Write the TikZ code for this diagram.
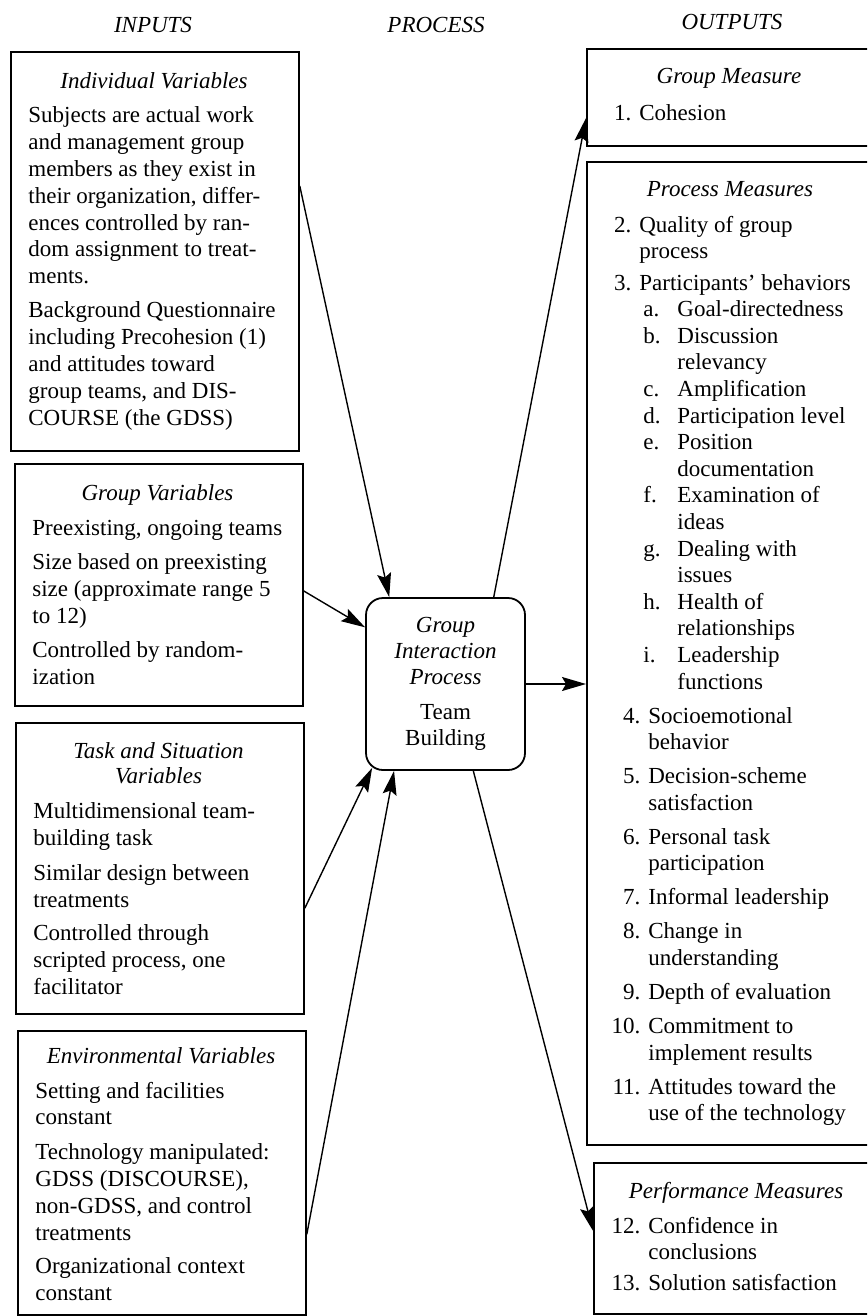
\documentclass[tikz,border=0pt]{standalone}
\usepackage{fontspec}
\setmainfont{Liberation Serif}
\usetikzlibrary{arrows.meta, calc}
% numbered entries of the output lists
\newcommand{\numNarrow}[2]{\makebox[15.5pt][r]{#1}\hspace{4pt}#2}
\newcommand{\numWide}[2]{\makebox[20pt][r]{#1}\hspace{4pt}#2}
\newcommand{\subLetter}[2]{\hspace*{21.5pt}\makebox[17pt][l]{#1}#2}

\begin{document}
\begin{tikzpicture}[x=0.5pt, y=-0.5pt,
    box/.style={draw, line width=0.9pt, anchor=north west, inner sep=0pt},
    flow/.style={-{Stealth[length=12pt, width=7pt, inset=2pt]}, line width=0.7pt},
    head/.style={font=\fontsize{11.5}{12.5}\selectfont\itshape, inner sep=0pt, align=center},
    lefttext/.style={font=\fontsize{11.5}{13.4}\selectfont, align=left, anchor=north west, inner sep=0pt},
    righttext/.style={font=\fontsize{11.5}{13.3}\selectfont, align=left, anchor=north west, inner sep=0pt}]
        \useasboundingbox (0,0) rectangle (867,1316);
        \clip (0,0) rectangle (867,1316);

        % Column headers
        \node[head] (hIn) at (153,25) {INPUTS};
        \node[head] (hProc) at (436,25) {PROCESS};
        \node[head] (hOut) at (732,22) {OUTPUTS};

        % Inputs: individual variables
        \node[box, minimum width=144pt, minimum height=199.5pt] (indiv) at (10,51) {};
        \node[head, anchor=north] (indivT) at (154,72.5) {Individual Variables};
        \node[lefttext] (indivB) at (28,106.5) {Subjects are actual work\\
          and management group\\
          members as they exist in\\
          their organization, differ-\\
          ences controlled by ran-\\
          dom assignment to treat-\\
          ments.\\[3.7pt]
          Background Questionnaire\\
          including Precohesion (1)\\
          and attitudes toward\\
          group teams, and DIS-\\
          COURSE (the GDSS)};

        % Inputs: group variables
        \node[box, minimum width=144pt, minimum height=121pt] (grpVar) at (14,463) {};
        \node[head, anchor=north] (grpVarT) at (157.5,484.5) {Group Variables};
        \node[lefttext] (grpVarB) at (32,519.5) {Preexisting, ongoing teams\\[4pt]
          Size based on preexisting\\
          size (approximate range 5\\
          to 12)\\[3.8pt]
          Controlled by random-\\
          ization};

        % Inputs: task and situation variables
        \node[box, minimum width=144pt, minimum height=145.5pt] (task) at (15,722) {};
        \node[head, anchor=north] (taskT) at (158.5,742.5) {Task and Situation\\ Variables};
        \node[lefttext] (taskB) at (33,802.5) {Multidimensional team-\\
          building task\\[4.2pt]
          Similar design between\\
          treatments\\[3.2pt]
          Controlled through\\
          scripted process, one\\
          facilitator};

        % Inputs: environmental variables
        \node[box, minimum width=144pt, minimum height=142pt] (env) at (17,1030) {};
        \node[head, anchor=north] (envT) at (161,1047.5) {Environmental Variables};
        \node[lefttext] (envB) at (35,1081.5) {Setting and facilities\\
          constant\\[4pt]
          Technology manipulated:\\
          GDSS (DISCOURSE),\\
          non-GDSS, and control\\
          treatments\\[3.2pt]
          Organizational context\\
          constant};

        % Process
        \node[draw, line width=0.9pt, rounded corners=8.5pt, minimum width=79.5pt,
          minimum height=86pt, align=center, inner sep=0pt,
          font=\fontsize{11.5}{13}\selectfont] (central) at (445.5,684)
          {\textit{Group}\\ \textit{Interaction}\\ \textit{Process}\\[4.5pt] Team\\ Building};

        % Outputs: group measure
        \node[box, minimum width=144pt, minimum height=48.5pt] (gMeas) at (586,48) {};
        \node[head, anchor=north] (gMeasT) at (729,67.5) {Group Measure};
        \node[righttext] (gMeasB) at (600,104.5) {\numNarrow{1.}{Cohesion}};

        % Outputs: process measures
        \node[box, minimum width=144pt, minimum height=491.5pt] (procM) at (586,161) {};
        \node[head, anchor=north] (procMT) at (730,181.5) {Process Measures};
        \node[righttext] (procMB) at (600,215.5) {\numNarrow{2.}{Quality of group}\\
          \hspace*{19.5pt}process\\[2.4pt]
          \numNarrow{3.}{Participants' behaviors}\\
          \subLetter{a.}{Goal-directedness}\\
          \subLetter{b.}{Discussion}\\
          \hspace*{38.5pt}relevancy\\
          \subLetter{c.}{Amplification}\\
          \subLetter{d.}{Participation level}\\
          \subLetter{e.}{Position}\\
          \hspace*{38.5pt}documentation\\
          \subLetter{f.}{Examination of}\\
          \hspace*{38.5pt}ideas\\
          \subLetter{g.}{Dealing with}\\
          \hspace*{38.5pt}issues\\
          \subLetter{h.}{Health of}\\
          \hspace*{38.5pt}relationships\\
          \subLetter{i.}{Leadership}\\
          \hspace*{38.5pt}functions\\[3.7pt]
          \numWide{4.}{Socioemotional}\\
          \hspace*{24pt}behavior\\[3.7pt]
          \numWide{5.}{Decision-scheme}\\
          \hspace*{24pt}satisfaction\\[3.7pt]
          \numWide{6.}{Personal task}\\
          \hspace*{24pt}participation\\[3.7pt]
          \numWide{7.}{Informal leadership}\\[3.7pt]
          \numWide{8.}{Change in}\\
          \hspace*{24pt}understanding\\[3.7pt]
          \numWide{9.}{Depth of evaluation}\\[3.7pt]
          \numWide{10.}{Commitment to}\\
          \hspace*{24pt}implement results\\[3.7pt]
          \numWide{11.}{Attitudes toward the}\\
          \hspace*{24pt}use of the technology};

        % Outputs: performance measures
        \node[box, minimum width=140.5pt, minimum height=75.5pt] (perf) at (593,1162) {};
        \node[head, anchor=north] (perfT) at (736,1181.5) {Performance Measures};
        \node[righttext] (perfB) at (600,1216.5) {\numWide{12.}{Confidence in}\\
          \hspace*{24pt}conclusions\\[1.9pt]
          \numWide{13.}{Solution satisfaction}};

        % Arrows into the process
        \draw[flow] ($(indiv.north east)!0.337!(indiv.south east)$)
          -- ($(central.north west)!0.15!(central.north east)$);
        \draw[flow] ($(grpVar.north east)!0.525!(grpVar.south east)$)
          -- ($(central.north west)!0.174!(central.south west)$);
        \draw[flow] ($(task.north east)!0.636!(task.south east)$)
          -- ($(central.south west)+(7,-3)$);
        \draw[flow] ($(env.north east)!0.715!(env.south east)$)
          -- ($(central.south west)!0.18!(central.south east)$);

        % Arrows out of the process
        \draw[flow] ($(central.north west)!0.8!(central.north east)$)
          -- ($(gMeas.north west)!0.71!(gMeas.south west)$);
        \draw[flow] (central.east) -- (central.east -| procM.west);
        \draw[flow] ($(central.south west)!0.673!(central.south east)$)
          -- ($(perf.north west)!0.45!(perf.south west)$);
      \end{tikzpicture}
\end{document}
